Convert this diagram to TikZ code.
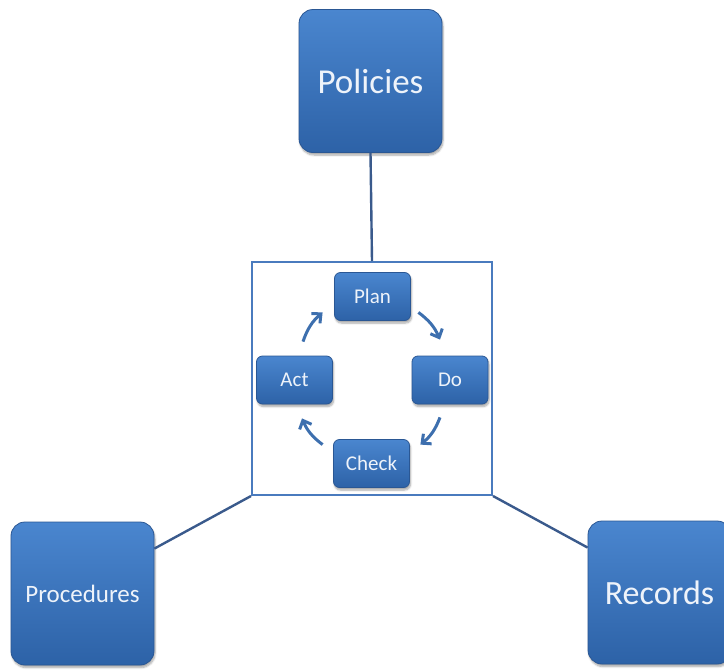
\documentclass[tikz,border=0pt]{standalone}
\usepackage{fontspec}
\setmainfont{Carlito}
\usetikzlibrary{arrows.meta,shadows.blur}

\definecolor{boxtop}{HTML}{4A86CF}
\definecolor{boxbot}{HTML}{2D62A7}
\definecolor{boxedge}{HTML}{2A5794}
\definecolor{frameblue}{HTML}{4A7BBE}
\definecolor{linkblue}{HTML}{3A5A8C}
\definecolor{cycblue}{HTML}{3D6FAE}
\definecolor{boxtext}{HTML}{EEF3FA}

\tikzset{
  glossy/.style={draw=boxedge, line width=0.8pt, top color=boxtop, bottom color=boxbot,
    text=boxtext, align=center, inner sep=0pt,
    blur shadow={shadow xshift=1pt, shadow yshift=-2.5pt, shadow blur steps=6, shadow opacity=35}},
  bigbox/.style={glossy, rounded corners=14pt, minimum width=143pt, minimum height=143pt,
    font=\fontsize{35}{40}\selectfont},
  smallbox/.style={glossy, rounded corners=6pt, minimum width=76pt, minimum height=48pt,
    font=\fontsize{21}{25}\selectfont},
  framebox/.style={draw=frameblue, line width=2pt, minimum width=240pt, minimum height=233pt, inner sep=0pt},
  link/.style={draw=linkblue, line width=2.4pt},
  cyc/.style={draw=cycblue, line width=3pt, bend left=15,
    -{Straight Barb[length=7pt,width=13pt,line width=3pt]}}
}

\begin{document}
\begin{tikzpicture}[x=1pt,y=-1pt]
  \useasboundingbox (0,0) rectangle (724,670);
  \clip (0,0) rectangle (724,670);

  % outer documents
  \node[bigbox] (pol) at (370.5,81) {Policies};
  \node[bigbox, font=\fontsize{25}{30}\selectfont] (proc) at (82.5,593.5) {Procedures};
  \node[bigbox, font=\fontsize{34}{40}\selectfont] (rec) at (659.5,592.5) {Records};

  % central management cycle frame
  \node[framebox] (frame) at (372,378.5) {};

  % links from the frame to the documents
  \draw[link] (pol.south) -- (frame.north);
  \draw[link] (frame.south west) -- (proc.32);
  \draw[link] (frame.south east) -- (rec.148);

  % PDCA steps
  \node[smallbox] (plan)  at (372.5,296.5) {Plan};
  \node[smallbox] (do)    at (450,380)     {Do};
  \node[smallbox] (check) at (371.5,463.5) {Check};
  \node[smallbox] (act)   at (294.5,380)   {Act};

  % cycle arrows
  \draw[cyc] ([shift={(7.5,-8.5)}]plan.south east) to ([shift={(-10,-16)}]do.north);
  \draw[cyc] ([shift={(-10,13)}]do.south) to ([shift={(10.5,5.5)}]check.north east);
  \draw[cyc] ([shift={(-10.5,5.5)}]check.north west) to ([shift={(7.5,14)}]act.south);
  \draw[cyc] ([shift={(8.5,-14)}]act.north) to ([shift={(-11.5,-8.5)}]plan.south west);
\end{tikzpicture}
\end{document}
